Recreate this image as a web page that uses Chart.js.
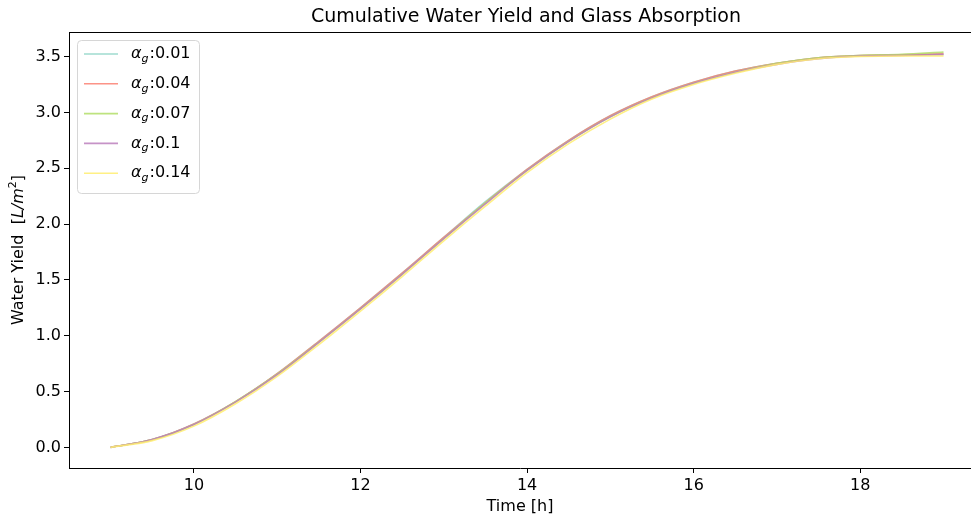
<!DOCTYPE html>
<html>
<head>
<meta charset="utf-8">
<script src="https://cdn.jsdelivr.net/npm/chart.js@4.4.1/dist/chart.umd.min.js"></script>
<style>
  html, body { margin: 0; padding: 0; background: #fff; overflow: hidden; }
  #wrap { width: 971px; height: 517px; position: relative; }
</style>
</head>
<body>
<div id="wrap"><canvas id="c" width="971" height="517"></canvas></div>
<script>
// Time of day [h]
const hours = [9, 9.5, 10, 10.5, 11, 11.5, 12, 12.5, 13, 13.5, 14, 14.5, 15, 15.5, 16, 16.5, 17, 17.5, 18, 18.5, 19];

// Cumulative water yield [L/m^2] for each glass absorption coefficient
const yieldAg001 = [0.00, 0.07, 0.21, 0.41, 0.66, 0.95, 1.25, 1.56, 1.88, 2.20, 2.49, 2.75, 2.97, 3.14, 3.27, 3.37, 3.44, 3.49, 3.51, 3.515, 3.52];
const yieldAg004 = [0.00, 0.07, 0.21, 0.41, 0.66, 0.95, 1.25, 1.56, 1.88, 2.19, 2.49, 2.75, 2.97, 3.14, 3.27, 3.37, 3.44, 3.49, 3.51, 3.515, 3.525];
const yieldAg007 = [0.00, 0.07, 0.205, 0.41, 0.655, 0.94, 1.24, 1.55, 1.87, 2.19, 2.48, 2.74, 2.96, 3.13, 3.26, 3.36, 3.44, 3.49, 3.51, 3.52, 3.54];
const yieldAg010 = [0.00, 0.07, 0.205, 0.405, 0.65, 0.94, 1.24, 1.55, 1.87, 2.18, 2.48, 2.74, 2.96, 3.13, 3.26, 3.36, 3.43, 3.48, 3.505, 3.51, 3.52];
const yieldAg014 = [0.00, 0.06, 0.19, 0.39, 0.635, 0.92, 1.22, 1.53, 1.85, 2.16, 2.46, 2.72, 2.94, 3.12, 3.25, 3.35, 3.43, 3.48, 3.50, 3.505, 3.505];

const absorptionLabels = ['0.01', '0.04', '0.07', '0.1', '0.14'];
const seriesColors = ['rgba(141,211,199,0.85)', 'rgba(251,128,114,0.85)', 'rgba(179,222,105,0.85)', 'rgba(188,128,189,0.85)', 'rgba(255,237,111,0.85)'];

const xTicks = [10, 12, 14, 16, 18];
const yTicks = [0, 0.5, 1.0, 1.5, 2.0, 2.5, 3.0, 3.5];

const FONT = '"DejaVu Sans", sans-serif';

const seriesValues = [yieldAg001, yieldAg004, yieldAg007, yieldAg010, yieldAg014];
const datasets = seriesValues.map((vals, i) => ({
  label: 'αg:' + absorptionLabels[i],
  data: hours.map((h, k) => ({ x: h, y: vals[k] })),
  borderColor: seriesColors[i],
  borderWidth: 1.6,
  pointRadius: 0,
  fill: false,
  cubicInterpolationMode: 'monotone',
  // later series are painted over earlier ones
  order: seriesValues.length - 1 - i
}));

// Extra drawing: title, top spine, legend with subscripts, y-axis title with italics/superscript
const decorations = {
  id: 'decorations',
  afterDraw(chart) {
    const ctx = chart.ctx;
    const a = chart.chartArea;
    ctx.save();

    // top spine
    ctx.strokeStyle = '#000';
    ctx.lineWidth = 1;
    ctx.beginPath();
    ctx.moveTo(a.left, a.top + 0.5);
    ctx.lineTo(a.right, a.top + 0.5);
    ctx.stroke();

    // title
    ctx.fillStyle = '#000';
    ctx.font = '19px ' + FONT;
    ctx.textAlign = 'center';
    ctx.textBaseline = 'middle';
    ctx.fillText('Cumulative Water Yield and Glass Absorption', 526, 17);

    // y-axis title
    ctx.save();
    ctx.translate(19, (a.top + a.bottom) / 2);
    ctx.rotate(-Math.PI / 2);
    const parts = [
      { t: 'Water Yield  [', f: '16px ' + FONT, dy: 0 },
      { t: 'L/m', f: 'italic 16px ' + FONT, dy: 0 },
      { t: '2', f: '11px ' + FONT, dy: -6 },
      { t: ']', f: '16px ' + FONT, dy: 0 }
    ];
    let total = 0;
    parts.forEach(p => { ctx.font = p.f; total += ctx.measureText(p.t).width; });
    let x = -total / 2;
    ctx.textAlign = 'left';
    ctx.textBaseline = 'middle';
    parts.forEach(p => {
      ctx.font = p.f;
      ctx.fillText(p.t, x, p.dy);
      x += ctx.measureText(p.t).width;
    });
    ctx.restore();

    // legend box
    const bx = 77.5, by = 40.5, bw = 122, bh = 153, r = 4;
    ctx.beginPath();
    ctx.moveTo(bx + r, by);
    ctx.lineTo(bx + bw - r, by);
    ctx.quadraticCurveTo(bx + bw, by, bx + bw, by + r);
    ctx.lineTo(bx + bw, by + bh - r);
    ctx.quadraticCurveTo(bx + bw, by + bh, bx + bw - r, by + bh);
    ctx.lineTo(bx + r, by + bh);
    ctx.quadraticCurveTo(bx, by + bh, bx, by + bh - r);
    ctx.lineTo(bx, by + r);
    ctx.quadraticCurveTo(bx, by, bx + r, by);
    ctx.closePath();
    ctx.fillStyle = 'rgba(255,255,255,0.8)';
    ctx.fill();
    ctx.strokeStyle = '#d6d6d6';
    ctx.lineWidth = 1;
    ctx.stroke();

    absorptionLabels.forEach((lab, i) => {
      const y = 54 + i * 29.8;
      ctx.strokeStyle = seriesColors[i];
      ctx.lineWidth = 1.6;
      ctx.beginPath();
      ctx.moveTo(84, y);
      ctx.lineTo(118, y);
      ctx.stroke();

      ctx.fillStyle = '#000';
      ctx.textAlign = 'left';
      ctx.textBaseline = 'middle';
      let tx = 131;
      ctx.font = 'italic 16px ' + FONT;
      ctx.fillText('α', tx, y);
      tx += ctx.measureText('α').width;
      ctx.font = 'italic 11px ' + FONT;
      ctx.fillText('g', tx, y + 5);
      tx += ctx.measureText('g').width + 1;
      ctx.font = '16px ' + FONT;
      ctx.fillText(':' + lab, tx, y);
    });

    ctx.restore();
  }
};

new Chart(document.getElementById('c'), {
  type: 'line',
  data: { datasets },
  options: {
    responsive: false,
    animation: false,
    events: [],
    layout: { padding: { top: 32, right: 0, bottom: 0, left: 0 } },
    plugins: {
      legend: { display: false },
      title: { display: false },
      tooltip: { enabled: false }
    },
    scales: {
      x: {
        type: 'linear',
        min: 8.5,
        max: 19.33,
        afterFit(s) { s.height = 49; },
        afterBuildTicks(s) { s.ticks = xTicks.map(v => ({ value: v })); },
        grid: { drawOnChartArea: false, drawTicks: true, tickLength: 5, tickColor: '#000' },
        border: { display: true, color: '#000', width: 1 },
        ticks: { color: '#000', font: { family: FONT, size: 16 }, padding: 3, maxRotation: 0,
                 callback: v => String(v) },
        title: { display: true, text: 'Time [h]', color: '#000', font: { family: FONT, size: 16 },
                 padding: { top: 0, bottom: 1 } }
      },
      y: {
        type: 'linear',
        min: -0.185,
        max: 3.72,
        afterFit(s) { s.width = 69; },
        afterBuildTicks(s) { s.ticks = yTicks.map(v => ({ value: v })); },
        grid: { drawOnChartArea: false, drawTicks: true, tickLength: 5, tickColor: '#000' },
        border: { display: true, color: '#000', width: 1 },
        ticks: { color: '#000', font: { family: FONT, size: 16 }, padding: 3,
                 callback: v => Number(v).toFixed(1) }
      }
    }
  },
  plugins: [decorations]
});
</script>
</body>
</html>
